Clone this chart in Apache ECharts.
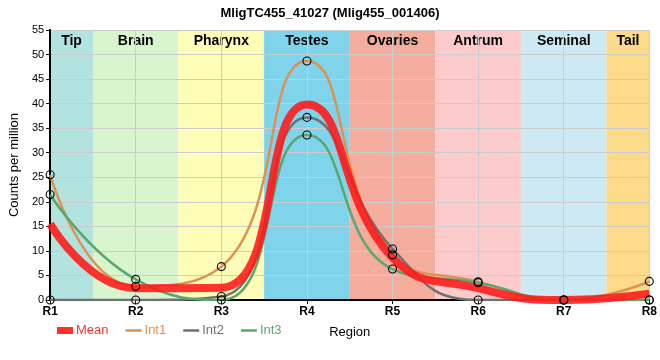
<!DOCTYPE html>
<html><head><meta charset="utf-8">
<script src="https://cdn.jsdelivr.net/npm/echarts@6/dist/echarts.min.js"></script>
<style>html,body{margin:0;padding:0;background:#fff}#c{width:660px;height:360px}</style>
</head><body><div id="c"></div>
<script>
const regions = ['R1','R2','R3','R4','R5','R6','R7','R8'];
const meanVals = [15.5, 2.4, 2.5, 39.8, 8.6, 2.4, 0, 1.3];
const int1Vals = [25.5, 2.8, 6.8, 48.7, 9.2, 3.7, 0, 3.8];
const int2Vals = [0, 0, 0.7, 37.2, 10.4, 0, 0, 0];
const int3Vals = [21.5, 4.2, 0, 33.6, 6.3, 3.5, 0, 0];
const bandNames = ['Tip','Brain','Pharynx','Testes','Ovaries','Antrum','Seminal','Tail'];
const bandColors = ['#b3e3de','#d9f5d0','#fdfdb8','#7fd3ea','#f4ac9c','#fdcbcb','#cdeaf4','#fdd98a'];
const yTicks = {min: 0, max: 55, interval: 5};

const colMean = 'rgba(255,25,25,0.88)', colInt1 = '#dd9155', colInt2 = '#707070', colInt3 = '#5aa66e';
const font = 'Liberation Sans, Arial, sans-serif';
const pts = arr => arr.map((v, i) => [i, v]);
const last = regions.length - 1;

const bandData = bandNames.map((n, i) => [
  {name: n, xAxis: Math.max(i - 0.5, 0), itemStyle: {color: bandColors[i]}},
  {xAxis: Math.min(i + 0.5, last)}
]);

function lineSeries(name, vals, color, width, z) {
  return {name, type: 'line', data: pts(vals), smooth: true, showSymbol: false, symbol: 'none',
    lineStyle: {color, width}, itemStyle: {color}, z, silent: true, animation: false};
}
function pointSeries(name, vals) {
  return {name, type: 'scatter', data: pts(vals), symbol: 'circle', symbolSize: 8,
    itemStyle: {color: 'rgba(0,0,0,0)', borderColor: '#000', borderWidth: 1.1, opacity: 1}, z: 6, silent: true, animation: false};
}

const chart = echarts.init(document.getElementById('c'), null, {renderer: 'canvas'});
chart.setOption({
  animation: false,
  textStyle: {fontFamily: font},
  title: {text: 'MligTC455_41027 (Mlig455_001406)', left: 'center', top: 2,
    textStyle: {fontSize: 13, fontWeight: 'bold', color: '#000', fontFamily: font}},
  grid: {left: 50, right: 10, top: 30, bottom: 60},
  legend: {left: 52, top: 319, itemWidth: 16, itemHeight: 7, itemGap: 17,
    textStyle: {fontSize: 13, fontFamily: font, padding: [0, 0, 0, -2]},
    data: [
      {name: 'Mean', icon: 'rect', itemStyle: {color: 'rgba(255,25,25,0.9)'}, textStyle: {color: 'rgba(255,50,50,1)'}},
      {name: 'Int1', icon: 'path://M0,0h16v2.5h-16z', itemStyle: {color: colInt1}, textStyle: {color: colInt1}},
      {name: 'Int2', icon: 'path://M0,0h16v2.5h-16z', itemStyle: {color: colInt2}, textStyle: {color: colInt2}},
      {name: 'Int3', icon: 'path://M0,0h16v2.5h-16z', itemStyle: {color: colInt3}, textStyle: {color: colInt3}}
    ]},
  xAxis: [
    {type: 'value', min: 0, max: last, interval: 1, z: 2,
      name: 'Region', nameLocation: 'middle', nameGap: 26,
      nameTextStyle: {fontSize: 13, color: '#000', fontFamily: font},
      axisLine: {onZero: false, lineStyle: {color: '#000', width: 2}},
      axisTick: {show: true, length: 4, lineStyle: {color: '#000'}},
      axisLabel: {formatter: v => regions[v] || '', fontSize: 12, fontWeight: 'bold', color: '#000', margin: 6},
      splitLine: {show: true, lineStyle: {color: '#cccccc', width: 1}}},
    {type: 'value', min: 0, max: last, position: 'top', z: 2,
      axisLine: {show: true, lineStyle: {color: '#000', width: 1.5}},
      axisTick: {show: false}, axisLabel: {show: false}, splitLine: {show: false}}
  ],
  yAxis: [
    {type: 'value', min: yTicks.min, max: yTicks.max, interval: yTicks.interval, z: 2,
      name: 'Counts per million', nameLocation: 'middle', nameGap: 21, nameRotate: 90,
      nameTextStyle: {fontSize: 13, color: '#000', fontFamily: font},
      axisLine: {show: true, onZero: false, lineStyle: {color: '#000', width: 2}},
      axisTick: {show: true, length: 4, lineStyle: {color: '#000'}},
      axisLabel: {fontSize: 11, color: '#000', margin: 6},
      splitLine: {show: true, lineStyle: {color: '#cccccc', width: 1}}},
    {type: 'value', min: yTicks.min, max: yTicks.max, position: 'right', z: 2,
      axisLine: {show: true, lineStyle: {color: '#000', width: 1.5}},
      axisTick: {show: false}, axisLabel: {show: false}, splitLine: {show: false}}
  ],
  series: [
    {name: 'bands', type: 'line', data: [], z: 1, silent: true,
      markArea: {silent: true, z: 1,
        label: {show: true, position: 'insideTop', distance: 4, fontSize: 14, fontWeight: 'bold', color: '#000', fontFamily: font},
        data: bandData}},
    lineSeries('Int1', int1Vals, colInt1, 2.5, 3),
    lineSeries('Int2', int2Vals, colInt2, 2.5, 3),
    lineSeries('Int3', int3Vals, colInt3, 2.5, 3),
    lineSeries('Mean', meanVals, colMean, 8, 4),
    pointSeries('p1', int1Vals),
    pointSeries('p2', int2Vals),
    pointSeries('p3', int3Vals)
  ]
});
</script></body></html>
